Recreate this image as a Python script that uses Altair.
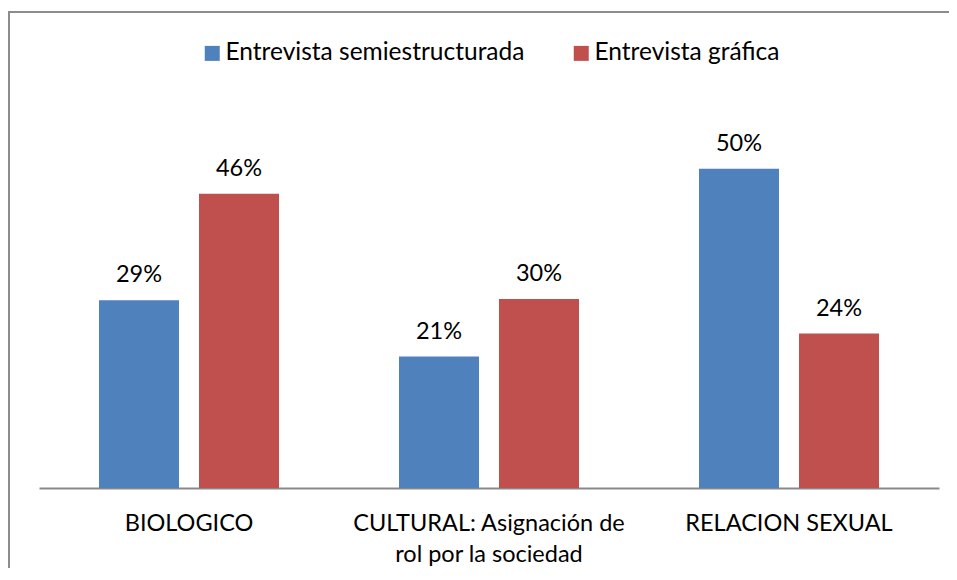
import json
import altair as alt
import pandas as pd

# ---- data ----
categorias = ["BIOLOGICO", "CULTURAL: Asignación de rol por la sociedad", "RELACION SEXUAL"]
lineas_cultural = ["CULTURAL: Asignación de", "rol por la sociedad"]
series = ["Entrevista semiestructurada", "Entrevista gráfica"]
semiestructurada = [0.294, 0.206, 0.500]
grafica = [0.461, 0.296, 0.242]
colores = ["#4F81BD", "#C0504D"]

rows = []
for i, c in enumerate(categorias):
    rows.append({"categoria": c, "serie": series[0], "valor": semiestructurada[i]})
    rows.append({"categoria": c, "serie": series[1], "valor": grafica[i]})
df = pd.DataFrame(rows)

FONT = "Lato"
label_expr = "datum.label == {} ? {} : datum.label".format(
    json.dumps(categorias[1]), json.dumps(lineas_cultural)
)

x_enc = alt.X(
    "categoria:N",
    sort=categorias,
    scale=alt.Scale(paddingInner=0, paddingOuter=0),
    axis=alt.Axis(
        title=None, labelAngle=0, ticks=False, tickSize=0, grid=False,
        domainColor="#898989", domainWidth=2,
        labelFont=FONT, labelFontSize=23.5, labelColor="#000000",
        labelPadding=23, labelLineHeight=31, labelLimit=0,
        labelExpr=label_expr,
    ),
)
xoff_enc = alt.XOffset("serie:N", sort=series,
                       scale=alt.Scale(paddingInner=0.2, paddingOuter=0.6))
y_enc = alt.Y("valor:Q", scale=alt.Scale(domain=[0, 0.6], nice=False), axis=None)

base = alt.Chart(df)

bars = base.mark_bar().encode(
    x=x_enc,
    xOffset=xoff_enc,
    y=y_enc,
    color=alt.Color(
        "serie:N", sort=series,
        scale=alt.Scale(domain=series, range=colores),
        legend=alt.Legend(
            orient="none", legendX=161, legendY=-64, direction="horizontal",
            title=None, symbolType="square", symbolSize=225, symbolStrokeWidth=0,
            labelFont=FONT, labelFontSize=24.5, labelColor="#000000",
            labelOffset=1, columnPadding=44, labelLimit=0, padding=0,
        ),
    ),
)

labels = base.mark_text(
    font=FONT, fontSize=23.5, baseline="alphabetic", dy=-18, color="#000000"
).encode(
    x=x_enc,
    xOffset=xoff_enc,
    y=y_enc,
    text=alt.Text("valor:Q", format=".0%"),
)

# chart frame (Excel chart-area border): top edge as a rule, left edge as a thin filled rect
frame_data = alt.Data(values=[{"b": 1}])
frame_top = alt.Chart(frame_data).mark_rule(color="#8c8c8c", strokeWidth=2, strokeCap="butt").encode(
    x=alt.value(-31), x2=alt.value(910), y=alt.value(-93)
)
frame_left = alt.Chart(frame_data).mark_rect(color="#8c8c8c", strokeWidth=0).encode(
    x=alt.value(-31), x2=alt.value(-29), y=alt.value(-94), y2=alt.value(463)
)

chart = alt.layer(frame_top, frame_left, bars, labels).properties(
    width=900, height=383,
    padding={"left": 31, "top": 97, "right": 10, "bottom": 80},
    autosize=alt.AutoSizeParams(type="none"),
).configure_view(stroke=None)

chart.save("out.html", embed_options={"renderer": "svg", "actions": False})
